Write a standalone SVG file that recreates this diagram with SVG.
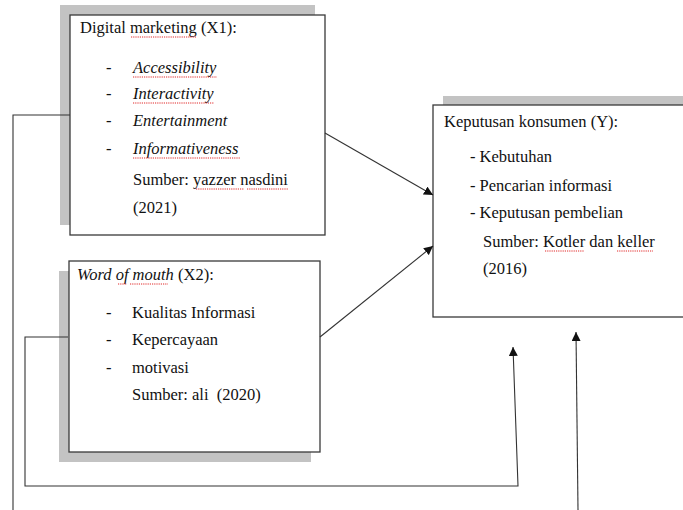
<svg xmlns="http://www.w3.org/2000/svg" width="683" height="510" viewBox="0 0 683 510">
<defs>
<marker id="arr" viewBox="0 0 10 10" refX="10" refY="5" markerWidth="9" markerHeight="9" markerUnits="userSpaceOnUse" orient="auto">
<path d="M0,0 L10,5 L0,10 z" fill="#111"/>
</marker>
</defs>
<style>
.shadow{fill:#c3c3c3;stroke:none}
.box{fill:#fff;stroke:#3a3a3a;stroke-width:1.3}
.t{font-family:"Liberation Serif","DejaVu Serif","Times New Roman",serif;font-size:16.5px;fill:#111}
.i{font-style:italic}
.c{fill:none;stroke:#333;stroke-width:1.1}
.sp{fill:none;stroke:#e02828;stroke-width:1;stroke-dasharray:1.2 1}
</style>
<rect width="683" height="510" fill="#fff"/>

<g id="node-x1">
<rect class="shadow" x="60" y="5" width="255" height="220"/>
<rect class="box" x="70" y="15" width="255" height="220"/>
<text class="t" x="80" y="33">Digital marketing (X1):</text>
<text class="t" x="106" y="73">-</text>
<text class="t i" x="133" y="73">Accessibility</text>
<text class="t" x="106" y="99">-</text>
<text class="t i" x="133" y="99">Interactivity</text>
<text class="t" x="106" y="126">-</text>
<text class="t i" x="133" y="126">Entertainment</text>
<text class="t" x="106" y="154">-</text>
<text class="t i" x="133" y="154">Informativeness</text>
<text class="t" x="133" y="185">Sumber: yazzer nasdini</text>
<text class="t" x="133" y="213">(2021)</text>
<path class="sp" d="M131,37 H197 M133,77 H217 M133,103 H214 M133,158 H240 M196,189 H244 M247,189 H288"/>
</g>

<g id="node-x2">
<rect class="shadow" x="59" y="271" width="252" height="191"/>
<rect class="box" x="69" y="261" width="251" height="191"/>
<text class="t" x="77" y="280"><tspan class="i">Word of mouth</tspan> (X2):</text>
<text class="t" x="106" y="318">-</text>
<text class="t" x="132" y="318">Kualitas Informasi</text>
<text class="t" x="106" y="345">-</text>
<text class="t" x="132" y="345">Kepercayaan</text>
<text class="t" x="106" y="373">-</text>
<text class="t" x="132" y="373">motivasi</text>
<text class="t" x="132" y="400">Sumber: ali &#160;(2020)</text>
<path class="sp" d="M118,284 H127 M130,284 H168"/>
</g>

<g id="node-y">
<rect class="shadow" x="443" y="96" width="250" height="212"/>
<rect class="box" x="433" y="105" width="260" height="212"/>
<text class="t" x="444" y="127">Keputusan konsumen (Y):</text>
<text class="t" x="470" y="162">- Kebutuhan</text>
<text class="t" x="470" y="191">- Pencarian informasi</text>
<text class="t" x="470" y="218">- Keputusan pembelian</text>
<text class="t" x="483" y="247">Sumber: Kotler dan keller</text>
<text class="t" x="483" y="274">(2016)</text>
<path class="sp" d="M545,251 H584 M617,251 H653"/>
</g>

<g id="connectors">
<path class="c" d="M70,115 H13 V510"/>
<path class="c" d="M68,337 H25 V486 H518 L513,347" marker-end="url(#arr)"/>
<path class="c" d="M578,510 L576,332" marker-end="url(#arr)"/>
<path class="c" d="M325,133 L433,195" marker-end="url(#arr)"/>
<path class="c" d="M320,337 L433,246" marker-end="url(#arr)"/>
</g>
</svg>
